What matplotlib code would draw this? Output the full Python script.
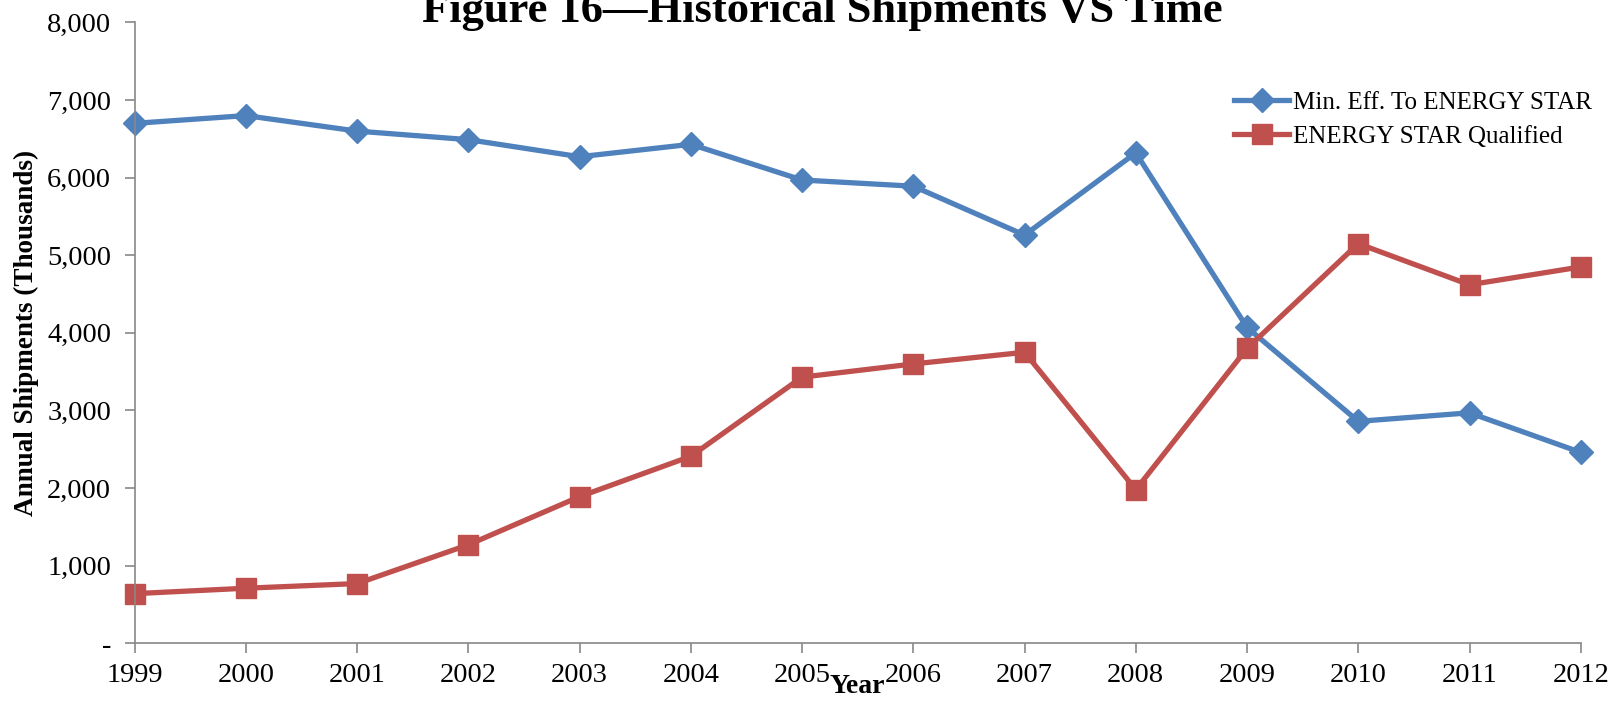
import matplotlib.pyplot as plt
from matplotlib.ticker import FuncFormatter

years = [1999, 2000, 2001, 2002, 2003, 2004, 2005, 2006, 2007, 2008, 2009, 2010, 2011, 2012]
min_eff = [6700, 6800, 6600, 6490, 6270, 6430, 5970, 5890, 5260, 6320, 4070, 2860, 2970, 2460]
qualified = [640, 710, 770, 1270, 1890, 2410, 3430, 3600, 3750, 1980, 3800, 5150, 4620, 4850]

plt.rcParams['font.family'] = ['Liberation Serif', 'DejaVu Serif']

fig = plt.figure(figsize=(16.13, 7.02), dpi=100)
ax = fig.add_axes([0.0835, 0.0836, 0.8965, 0.8844])

ax.plot(years, min_eff, color='#4F81BD', lw=3.8, marker='D', ms=12,
        label='Min. Eff. To ENERGY STAR')
ax.plot(years, qualified, color='#C0504D', lw=3.8, marker='s', ms=14,
        label='ENERGY STAR Qualified')

ax.set_xlim(1999, 2012)
ax.set_ylim(0, 8000)
ax.set_xticks(years)
ax.set_yticks(range(0, 8001, 1000))
ax.yaxis.set_major_formatter(FuncFormatter(lambda v, p: '-' if v == 0 else f'{int(v):,}'))

for s in ['top', 'right']:
    ax.spines[s].set_visible(False)
for s in ['left', 'bottom']:
    ax.spines[s].set_color('#888888')
    ax.spines[s].set_linewidth(1.2)
ax.tick_params(direction='out', color='#888888', length=7, width=1.2, labelsize=20.5)
ax.tick_params(axis='y', pad=10)
ax.tick_params(axis='x', pad=7)
for ln in ax.lines:
    ln.set_clip_on(False)

ax.set_xlabel('Year', fontsize=20, fontweight='bold', labelpad=-10)
ax.set_ylabel('Annual Shipments (Thousands)', fontsize=19.5, fontweight='bold', labelpad=6)

fig.text(0.51, 0.969, 'Figure 16\u2014Historical Shipments VS Time', ha='center',
         va='baseline', fontsize=32, fontweight='bold')

ax.legend(loc='upper right', bbox_to_anchor=(0.987, 0.870), bbox_transform=fig.transFigure,
          frameon=False, fontsize=18, borderpad=0, borderaxespad=0,
          handlelength=2.2, handletextpad=0.15, labelspacing=0.45)

fig.savefig('out.png', dpi=100)
